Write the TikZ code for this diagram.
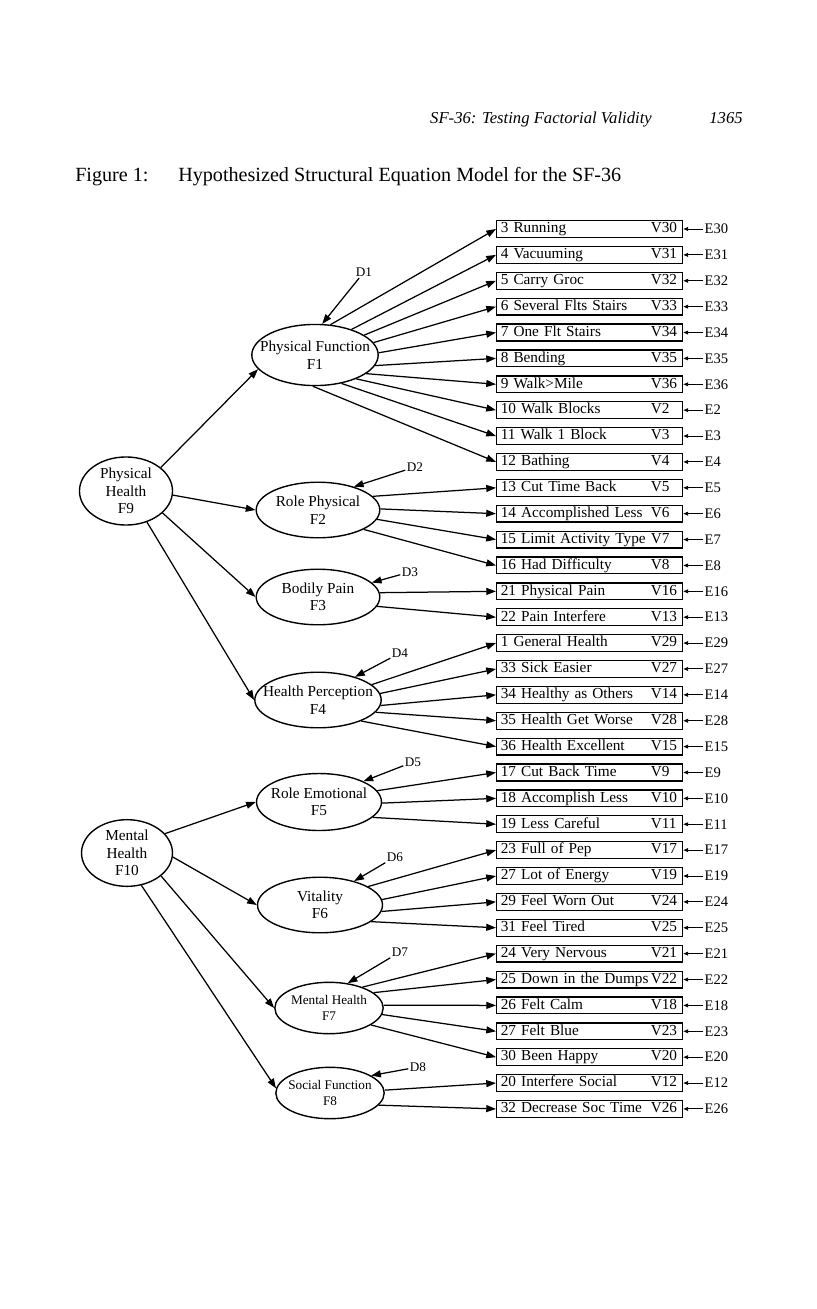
\documentclass[tikz,border=0pt]{standalone}
\usepackage{fontspec}
\setmainfont{Liberation Serif}
\usetikzlibrary{shapes.geometric,arrows.meta}

\begin{document}
\begin{tikzpicture}[x=0.72pt,y=-0.72pt,
  every node/.style={font=\fontsize{11}{12.6}\selectfont},
  latent/.style={draw,ellipse,line width=1pt,inner sep=0pt},
  ftext/.style={align=center,inner sep=0pt},
  obs/.style={draw,rectangle,line width=0.9pt,anchor=west,text width=128pt,inner xsep=3pt,inner ysep=0.8pt,text height=8pt,text depth=2.5pt},
  err/.style={anchor=west,inner sep=1pt,font=\fontsize{10.5}{12}\selectfont},
  dist/.style={inner sep=1pt,font=\fontsize{9.5}{11}\selectfont},
  loading/.style={line width=0.9pt,-{Triangle[length=7pt,width=5pt]}},
  errarr/.style={line width=0.7pt,-{Triangle[length=3.5pt,width=2.8pt]}}]
  \useasboundingbox (0,0) rectangle (816,1309);
  % running head and caption
  \node[anchor=base,inner sep=0pt,font=\fontsize{12}{14}\selectfont\itshape] (head) at (541,123) {SF-36: Testing Factorial Validity};
  \node[anchor=base,inner sep=0pt,font=\fontsize{12}{14}\selectfont\itshape] (page) at (726,123) {1365};
  \node[anchor=west,inner sep=0pt,font=\fontsize{14.5}{17}\selectfont] (fig) at (75,177) {Figure 1:};
  \node[anchor=west,inner sep=0pt,font=\fontsize{14.5}{17}\selectfont] (cap) at (178,177) {Hypothesized Structural Equation Model for the SF-36};

  % measured variables with their errors
  \foreach \row/\itm/\vn/\en in {0/3 Running/V30/E30, 1/4 Vacuuming/V31/E31, 2/5 Carry Groc/V32/E32,
      3/6 Several Flts Stairs/V33/E33, 4/7 One Flt Stairs/V34/E34, 5/8 Bending/V35/E35,
      6/9 Walk>Mile/V36/E36, 7/10 Walk Blocks/V2/E2, 8/11 Walk 1 Block/V3/E3, 9/12 Bathing/V4/E4,
      10/13 Cut Time Back/V5/E5, 11/14 Accomplished Less/V6/E6, 12/15 Limit Activity Type/V7/E7,
      13/16 Had Difficulty/V8/E8, 14/21 Physical Pain/V16/E16, 15/22 Pain Interfere/V13/E13,
      16/1 General Health/V29/E29, 17/33 Sick Easier/V27/E27, 18/34 Healthy as Others/V14/E14,
      19/35 Health Get Worse/V28/E28, 20/36 Health Excellent/V15/E15, 21/17 Cut Back Time/V9/E9,
      22/18 Accomplish Less/V10/E10, 23/19 Less Careful/V11/E11, 24/23 Full of Pep/V17/E17,
      25/27 Lot of Energy/V19/E19, 26/29 Feel Worn Out/V24/E24, 27/31 Feel Tired/V25/E25,
      28/24 Very Nervous/V21/E21, 29/25 Down in the Dumps/V22/E22, 30/26 Felt Calm/V18/E18,
      31/27 Felt Blue/V23/E23, 32/30 Been Happy/V20/E20, 33/20 Interfere Social/V12/E12,
      34/32 Decrease Soc Time/V26/E26} {
    \node[obs] (\vn) at (496,229+25.88*\row) {\itm\hfill\makebox[20pt][l]{\vn}};
    \node[err] (\en) at (703,229+25.88*\row) {\en};
    \draw[errarr] (\en) -- (\vn);
  }

  % second order factors
  \node[latent,minimum width=67pt,minimum height=49pt] (F9) at (126,491) {};
  \node[ftext] (F9t) at (F9) {Physical\\Health\\F9};
  \node[latent,minimum width=65.5pt,minimum height=48pt] (F10) at (127,853) {};
  \node[ftext] (F10t) at (F10) {Mental\\Health\\F10};

  % first order factors
  \node[latent,minimum width=91pt,minimum height=44pt] (F1) at (315,355) {};
  \node[ftext] (F1t) at (F1) {Physical Function\\F1};
  \node[latent,minimum width=89pt,minimum height=40pt] (F2) at (318,510) {};
  \node[ftext] (F2t) at (F2) {Role Physical\\F2};
  \node[latent,minimum width=89pt,minimum height=40pt] (F3) at (318,597) {};
  \node[ftext] (F3t) at (F3) {Bodily Pain\\F3};
  \node[latent,minimum width=91pt,minimum height=40pt] (F4) at (318,700) {};
  \node[ftext] (F4t) at (F4) {Health Perception\\F4};
  \node[latent,minimum width=90pt,minimum height=41pt] (F5) at (319,802) {};
  \node[ftext] (F5t) at (F5) {Role Emotional\\F5};
  \node[latent,minimum width=90pt,minimum height=40pt] (F6) at (320,905) {};
  \node[ftext] (F6t) at (F6) {Vitality\\F6};
  \node[latent,minimum width=78pt,minimum height=37pt] (F7) at (329,1008) {};
  \node[ftext,font=\fontsize{9.5}{11}\selectfont] (F7t) at (F7) {Mental Health\\F7};
  \node[latent,minimum width=78pt,minimum height=37pt] (F8) at (330,1093) {};
  \node[ftext,font=\fontsize{9.5}{11}\selectfont] (F8t) at (F8) {Social Function\\F8};

  % disturbances
  \node[dist] (D1) at (364,272) {D1};
  \node[dist] (D2) at (415,467) {D2};
  \node[dist] (D3) at (410,572) {D3};
  \node[dist] (D4) at (400,653) {D4};
  \node[dist] (D5) at (413,762) {D5};
  \node[dist] (D6) at (395,857) {D6};
  \node[dist] (D7) at (400,952) {D7};
  \node[dist] (D8) at (418,1067) {D8};
  \draw[loading] (D1) -- (F1.77);
  \draw[loading] (D2) -- (F2.33);
  \draw[loading] (D3) -- (F3.15);
  \draw[loading] (D4) -- (F4.32);
  \draw[loading] (D5) -- (F5.25);
  \draw[loading] (D6) -- (F6.35);
  \draw[loading] (D7) -- (F7.53);
  \draw[loading] (D8) -- (F8.23);

  % higher order paths
  \draw[loading] (F9.34) -- (F1.194);
  \draw[loading] (F9.355) -- (F2.180);
  \draw[loading] (F9.329) -- (F3.180);
  \draw[loading] (F9.304) -- (F4.180);
  \draw[loading] (F10.27) -- (F5.180);
  \draw[loading] (F10.355) -- (F6.180);
  \draw[loading] (F10.326) -- (F7.180);
  \draw[loading] (F10.294) -- (F8.175);

  % loadings on the items
  \foreach \a/\t in {63/V30,35/V31,22/V32,12/V33,2/V34,350/V35,340/V36,330/V2,313/V3,266/V4}
    \draw[loading] (F1.\a) -- (\t.west);
  \foreach \a/\t in {14/V5,1/V6,351/V7,337/V8} \draw[loading] (F2.\a) -- (\t.west);
  \foreach \a/\t in {4/V16,351/V13} \draw[loading] (F3.\a) -- (\t.west);
  \foreach \a/\t in {16/V29,6/V27,355/V14,348/V28,334/V15} \draw[loading] (F4.\a) -- (\t.west);
  \foreach \a/\t in {11/V9,359/V10,344/V11} \draw[loading] (F5.\a) -- (\t.west);
  \foreach \a/\t in {21/V17,5/V19,354/V24,342/V25} \draw[loading] (F6.\a) -- (\t.west);
  \foreach \a/\t in {32/V21,19/V22,3/V18,353/V23,338/V20} \draw[loading] (F7.\a) -- (\t.west);
  \foreach \a/\t in {3/V12,346/V26} \draw[loading] (F8.\a) -- (\t.west);
\end{tikzpicture}
\end{document}
